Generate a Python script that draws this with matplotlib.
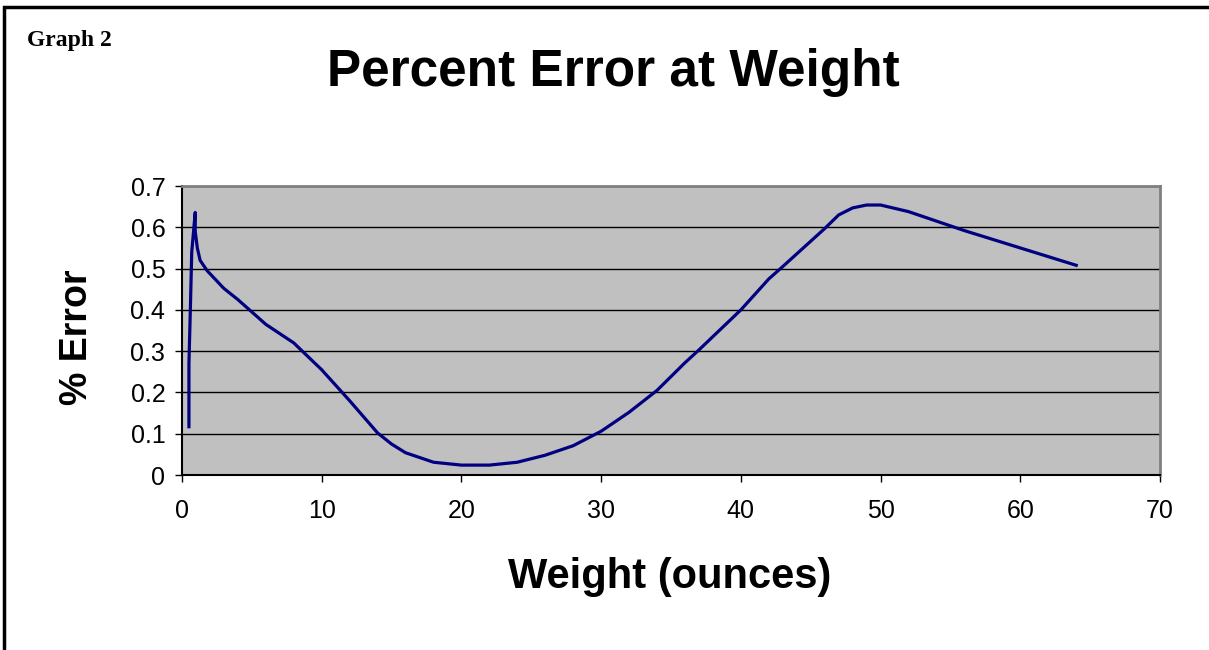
import matplotlib.pyplot as plt
from matplotlib.patches import Rectangle

# weight in ounces vs percent error
weight = [0.5, 0.5, 0.6, 0.7, 0.95, 0.95, 1.1, 1.3, 1.8, 3, 4, 6, 8, 10, 12, 14, 15, 16,
          18, 20, 22, 24, 26, 28, 30, 32, 34, 36, 37, 40, 42, 43, 46, 47, 48, 49, 50,
          52, 54, 56, 64]
error = [0.117, 0.27, 0.40, 0.54, 0.636, 0.59, 0.55, 0.52, 0.495, 0.452, 0.425, 0.365, 0.32,
         0.255, 0.18, 0.102, 0.075, 0.054, 0.031, 0.024, 0.024, 0.031, 0.048, 0.071,
         0.106, 0.152, 0.205, 0.272, 0.303, 0.4, 0.475, 0.505, 0.597, 0.63, 0.647,
         0.654, 0.654, 0.638, 0.615, 0.592, 0.508]

xticks = [0, 10, 20, 30, 40, 50, 60, 70]
yticks = [0, 0.1, 0.2, 0.3, 0.4, 0.5, 0.6, 0.7]
ylabels = ['0', '0.1', '0.2', '0.3', '0.4', '0.5', '0.6', '0.7']

plt.rcParams['font.family'] = ['Liberation Sans', 'DejaVu Sans']

fig = plt.figure(figsize=(12.09, 6.5), dpi=100)
ax = fig.add_axes([0.1505, 0.2692, 0.809, 0.4446])
ax.set_facecolor('#C0C0C0')
ax.plot(weight, error, color='#000080', lw=2.3)

ax.set_xlim(0, 70)
ax.set_ylim(0, 0.7)
ax.set_xticks(xticks)
ax.set_yticks(yticks)
ax.set_yticklabels(ylabels)
ax.tick_params(labelsize=18, length=5, width=1, direction='out')
ax.tick_params(axis='y', pad=7)
ax.tick_params(axis='x', pad=12)
ax.grid(axis='y', color='black', lw=1)
ax.set_axisbelow(True)

for s in ['top', 'right']:
    ax.spines[s].set_color('#808080')
    ax.spines[s].set_linewidth(2)
for s in ['left', 'bottom']:
    ax.spines[s].set_color('black')
    ax.spines[s].set_linewidth(1.5)

fig.text(0.507, 0.888, 'Percent Error at Weight', ha='center', va='center',
         fontsize=37, fontweight='bold')
fig.text(0.554, 0.112, 'Weight (ounces)', ha='center', va='center',
         fontsize=30, fontweight='bold')
fig.text(0.064, 0.4815, '% Error', ha='center', va='center', rotation=90,
         fontsize=27, fontweight='bold')
fig.text(0.022, 0.938, 'Graph 2', ha='left', va='center', fontsize=17,
         fontweight='bold', family='Liberation Serif')

fig.patches.append(Rectangle((0.0035, -0.1), 1.2, 1.089, transform=fig.transFigure,
                             fill=False, edgecolor='black', lw=2.5))

fig.savefig('out.png', dpi=100)
